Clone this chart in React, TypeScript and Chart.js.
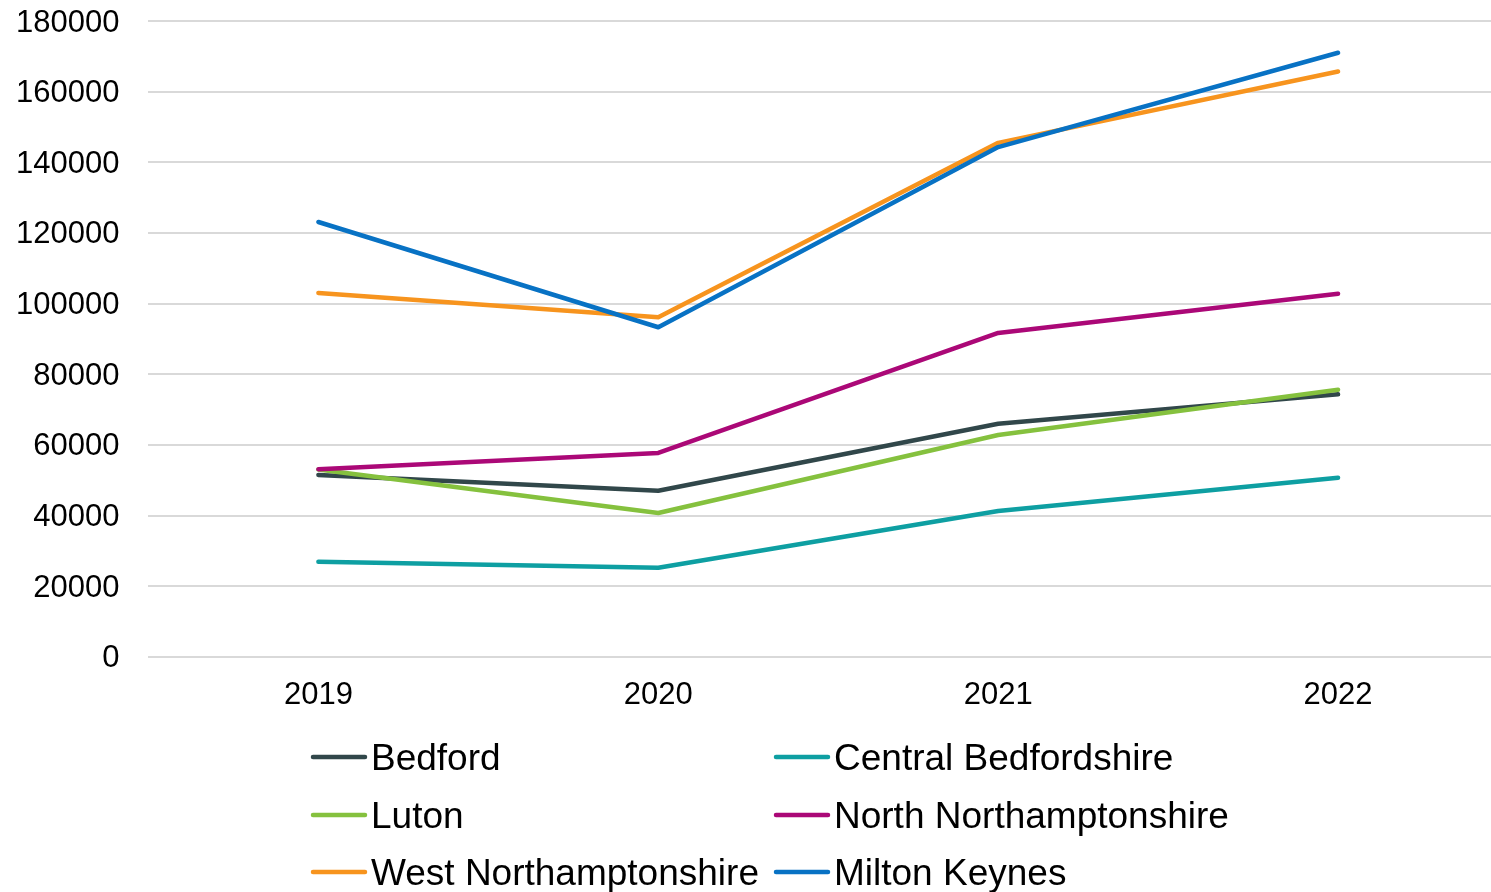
import React, { useEffect, useRef } from "react";
import { Chart, registerables } from "chart.js";

Chart.register(...registerables);

const years = ["2019", "2020", "2021", "2022"];
const seriesNames = [
  "Bedford",
  "Central Bedfordshire",
  "Luton",
  "North Northamptonshire",
  "West Northamptonshire",
  "Milton Keynes",
];
const bedford = [51500, 47000, 66000, 74300];
const centralBedfordshire = [26900, 25200, 41300, 50700];
const luton = [53000, 40700, 62800, 75600];
const northNorthamptonshire = [53100, 57700, 91700, 102800];
const westNorthamptonshire = [103000, 96100, 145500, 165700];
const miltonKeynes = [123100, 93300, 144300, 171000];
const seriesValues = [
  bedford,
  centralBedfordshire,
  luton,
  northNorthamptonshire,
  westNorthamptonshire,
  miltonKeynes,
];
const seriesColors = ["#31474A", "#0E9FA2", "#85C13E", "#AB0877", "#F7941E", "#0872C4"];
const yTicks = [0, 20000, 40000, 60000, 80000, 100000, 120000, 140000, 160000, 180000];

const FONT = '"Liberation Sans", Arial, sans-serif';

const legendPlugin = {
  id: "gridLegend",
  afterDraw(chart: any) {
    const ctx = chart.ctx;
    const cols = [313, 776];
    const rows = [757, 815, 872];
    ctx.save();
    ctx.font = `37px ${FONT}`;
    ctx.textBaseline = "alphabetic";
    ctx.textAlign = "left";
    chart.data.datasets.forEach((ds: any, i: number) => {
      const cx = cols[i % 2];
      const cy = rows[Math.floor(i / 2)];
      ctx.strokeStyle = ds.borderColor;
      ctx.lineWidth = 4.5;
      ctx.lineCap = "round";
      ctx.beginPath();
      ctx.moveTo(cx, cy);
      ctx.lineTo(cx + 52, cy);
      ctx.stroke();
      ctx.fillStyle = "#000000";
      ctx.fillText(ds.label, cx + 58, cy + 13);
    });
    ctx.restore();
  },
};

export default function App() {
  const ref = useRef<HTMLCanvasElement | null>(null);
  useEffect(() => {
    if (!ref.current) return;
    const chart = new Chart(ref.current, {
      type: "line",
      data: {
        labels: years,
        datasets: seriesNames.map((name, i) => ({
          label: name,
          data: seriesValues[i],
          borderColor: seriesColors[i],
          backgroundColor: seriesColors[i],
          borderWidth: 4.5,
          pointRadius: 0,
          pointHoverRadius: 0,
          tension: 0,
          borderCapStyle: "round",
          borderJoinStyle: "round",
          order: seriesNames.length - 1 - i,
        })),
      },
      options: {
        responsive: false,
        animation: false,
        layout: { padding: { left: 16, right: 2, top: 21, bottom: 178 } },
        plugins: {
          legend: { display: false },
          tooltip: { enabled: false },
        },
        scales: {
          x: {
            offset: true,
            grid: {
              display: true,
              drawOnChartArea: false,
              drawTicks: true,
              tickLength: 20,
              color: "rgba(0,0,0,0)",
              tickColor: "rgba(0,0,0,0)",
            },
            border: { display: false },
            ticks: {
              color: "#000000",
              font: { family: FONT, size: 31 },
              padding: 0,
              maxRotation: 0,
            },
          },
          y: {
            min: 0,
            max: 180000,
            afterBuildTicks: (scale: any) => {
              scale.ticks = yTicks.map((v) => ({ value: v }));
            },
            grid: {
              color: "#D9D9D9",
              lineWidth: 2,
              drawTicks: true,
              tickLength: 29,
              tickColor: "rgba(0,0,0,0)",
            },
            border: { display: false },
            ticks: {
              color: "#000000",
              font: { family: FONT, size: 31, lineHeight: 1 },
              padding: 0,
              labelOffset: 2,
              callback: (v: any) => String(v),
            },
          },
        },
      },
      plugins: [legendPlugin],
    });
    return () => chart.destroy();
  }, []);
  return (
    <div
      style={{
        position: "fixed",
        left: 0,
        top: 0,
        width: 1491,
        height: 892,
        overflow: "hidden",
        background: "#ffffff",
      }}
    >
      <canvas ref={ref} width={1510} height={892} style={{ width: 1510, height: 892, display: "block" }} />
    </div>
  );
}
